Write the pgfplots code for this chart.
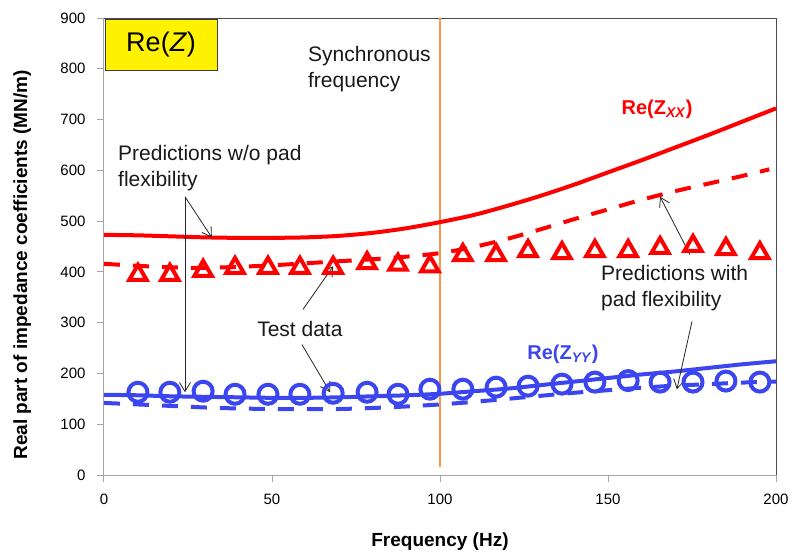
\documentclass[border=0pt]{standalone}
\usepackage{fontspec}
\setmainfont{Liberation Sans}
\usepackage{pgfplots}
\pgfplotsset{compat=1.18}
\usetikzlibrary{arrows.meta}
\definecolor{myred}{RGB}{255,0,0}
\definecolor{myblue}{RGB}{60,70,240}
\definecolor{myorange}{RGB}{247,150,70}
\definecolor{axgray}{RGB}{165,165,165}
\begin{document}
\begin{tikzpicture}
\useasboundingbox (-104pt,-80pt) rectangle (693pt,475pt);
\begin{axis}[
  width=672pt, height=457pt, scale only axis,
  xmin=0, xmax=200, ymin=0, ymax=900,
  xtick={0,50,...,200}, ytick={0,100,...,900},
  xtick pos=lower, ytick pos=left,
  axis line style={axgray, line width=1pt},
  tick style={axgray, line width=1pt},
  tick align=outside, major tick length=7pt,
  /pgf/number format/assume math mode=true,
  ticklabel style={font=\fontsize{15}{18}\selectfont, black},
  xticklabel style={yshift=-8pt},
  yticklabel style={xshift=-8pt},
  xlabel={Frequency (Hz)},
  ylabel={Real part of impedance coefficients (MN/m)},
  xlabel style={font=\bfseries\fontsize{19}{22}\selectfont, at={(axis description cs:0.5,-0.145)}, anchor=center},
  ylabel style={font=\bfseries\fontsize{19}{22}\selectfont, at={(axis description cs:-0.1217,0.46)}, anchor=center},
  clip=false,
]
\draw[black!70, line width=1pt] (rel axis cs:0,1) -- (rel axis cs:1,1) -- (rel axis cs:1,0);
% synchronous frequency
\addplot[myorange, line width=2pt, forget plot] coordinates {(100,15) (100,900)};
% red solid (w/o pad flexibility)
\addplot[myred, line width=4pt, smooth, no marks] coordinates {
(0,473) (10,472) (20,470) (30,468) (40,467) (50,467) (60,468) (70,471) (80,477) (90,486) (100,498)
(110,512) (120,530) (130,550) (140,572) (150,596) (160,620) (170,645) (180,670) (190,696) (200,722)};
% red dashed (with pad flexibility)
\addplot[myred, line width=4pt, smooth, no marks, dash pattern=on 16pt off 13pt] coordinates {
(0,416) (10,412) (20,409) (30,408) (40,410) (50,413) (60,417) (70,421) (80,425) (90,430) (100,437)
(110,449) (120,465) (130,484) (140,504) (150,523) (160,542) (170,559) (180,574) (190,589) (198,602)};
% blue solid
\addplot[myblue, line width=4pt, smooth, no marks] coordinates {
(0,158) (10,157) (20,155) (30,154) (40,153) (50,152) (60,152) (70,153) (80,155) (90,157) (100,160)
(110,165) (120,170) (130,177) (140,184) (150,191) (160,198) (170,204) (180,211) (190,218) (200,224)};
% blue dashed
\addplot[myblue, line width=4pt, smooth, no marks, dash pattern=on 16pt off 13pt] coordinates {
(0,142) (10,139) (20,136) (30,133) (40,131) (50,130) (60,130) (70,130) (80,132) (90,135) (100,139)
(110,144) (120,150) (130,156) (140,162) (150,167) (160,172) (170,176) (180,179) (190,182) (200,184)};
% red test data
\addplot[only marks, mark=triangle, mark size=10pt, myred, line width=4pt, mark options={yshift=-2.5pt}] coordinates {
(10.1,399) (19.6,399) (29.5,407) (39.0,413) (48.8,413) (58.3,413) (68.2,413) (78.3,422) (87.5,419) (97.0,416)
(106.8,438) (116.7,438) (126.2,446) (136.3,442) (146.1,446) (156.0,446) (165.5,452) (175.3,456) (185.1,450) (195.2,442)};
% blue test data
\addplot[only marks, mark=o, mark size=9.5pt, myblue, line width=4pt] coordinates {
(10.1,163) (19.6,163) (29.5,165) (39.0,159) (48.8,159) (58.3,159) (68.2,161) (78.3,163) (87.5,159) (97.0,169)
(106.8,169) (116.7,173) (126.2,175) (136.3,179) (146.1,183) (156.0,186) (165.5,183) (175.3,183) (185.1,185) (195.2,183)};
% annotations
\tikzset{ann/.style={-{Straight Barb[length=9pt,width=11pt]}, line width=0.8pt, black!85}}
\draw[ann] (axis cs:24.1,548) -- (axis cs:32.1,467.6);
\draw[ann] (axis cs:24.1,548) -- (axis cs:24.1,163);
\draw[ann] (axis cs:59.2,326) -- (axis cs:68.2,411);
\draw[ann] (axis cs:58.9,257) -- (axis cs:67.3,163);
\draw[ann] (axis cs:174.4,434) -- (axis cs:165.5,548);
\draw[ann] (axis cs:175,302.5) -- (axis cs:170.5,169);
\tikzset{txt/.style={font=\fontsize{21}{26}\selectfont, align=left, inner sep=0pt, text=black!90}}
\node[txt, anchor=west] at (axis cs:4.17,605) {Predictions w/o pad\\flexibility};
\node[txt, anchor=center] at (axis cs:58.3,287) {Test data};
\node[txt, anchor=west] at (axis cs:147.9,367.4) {Predictions with\\pad flexibility};
\node[txt, anchor=west] at (axis cs:60.7,799.6) {Synchronous\\frequency};
\node[draw=black!75, fill=yellow, line width=1pt, minimum width=112pt, minimum height=51pt,
      font=\fontsize{27}{30}\selectfont] at (axis cs:17,847.7) {Re(\textit{Z})};
\node[myred, font=\bfseries\fontsize{20}{24}\selectfont] at (axis cs:164.6,721) {Re(Z\textsubscript{\textit{XX}})};
\node[myblue, font=\bfseries\fontsize{20}{24}\selectfont] at (axis cs:136.6,238) {Re(Z\textsubscript{\textit{YY}})};
\end{axis}
\end{tikzpicture}
\end{document}
